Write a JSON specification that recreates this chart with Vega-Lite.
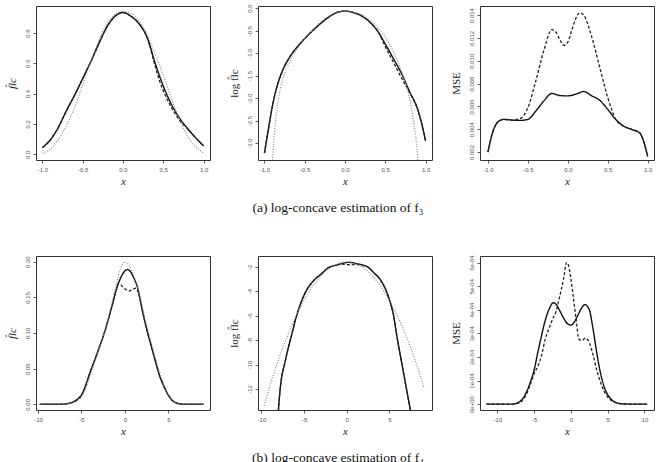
{
  "$schema": "https://vega.github.io/schema/vega-lite/v6.json",
  "background": "white",
  "padding": {"left": 5, "top": 3, "right": 5, "bottom": 5},
  "columns": 3,
  "bounds": "flush",
  "spacing": {"row": 96, "column": 48},
  "datasets": {
    "p1": [
      {"x": -1.0, "y": 0.044, "s": "lc"}, {"x": -0.9, "y": 0.096, "s": "lc"}, {"x": -0.8, "y": 0.18, "s": "lc"}, {"x": -0.7, "y": 0.29, "s": "lc"}, {"x": -0.6, "y": 0.39, "s": "lc"}, {"x": -0.5, "y": 0.5, "s": "lc"}, {"x": -0.4, "y": 0.61, "s": "lc"}, {"x": -0.3, "y": 0.73, "s": "lc"}, {"x": -0.2, "y": 0.84, "s": "lc"}, {"x": -0.1, "y": 0.91, "s": "lc"}, {"x": 0.0, "y": 0.935, "s": "lc"}, {"x": 0.1, "y": 0.91, "s": "lc"}, {"x": 0.2, "y": 0.86, "s": "lc"}, {"x": 0.3, "y": 0.77, "s": "lc"}, {"x": 0.4, "y": 0.6, "s": "lc"}, {"x": 0.5, "y": 0.45, "s": "lc"}, {"x": 0.6, "y": 0.33, "s": "lc"}, {"x": 0.7, "y": 0.24, "s": "lc"}, {"x": 0.8, "y": 0.17, "s": "lc"}, {"x": 0.9, "y": 0.11, "s": "lc"}, {"x": 1.0, "y": 0.055, "s": "lc"},
      {"x": -1.0, "y": 0.044, "s": "alt"}, {"x": -0.9, "y": 0.096, "s": "alt"}, {"x": -0.8, "y": 0.18, "s": "alt"}, {"x": -0.7, "y": 0.29, "s": "alt"}, {"x": -0.6, "y": 0.39, "s": "alt"}, {"x": -0.5, "y": 0.5, "s": "alt"}, {"x": -0.4, "y": 0.61, "s": "alt"}, {"x": -0.3, "y": 0.73, "s": "alt"}, {"x": -0.2, "y": 0.84, "s": "alt"}, {"x": -0.1, "y": 0.91, "s": "alt"}, {"x": 0.0, "y": 0.935, "s": "alt"}, {"x": 0.1, "y": 0.91, "s": "alt"}, {"x": 0.2, "y": 0.86, "s": "alt"}, {"x": 0.3, "y": 0.77, "s": "alt"}, {"x": 0.4, "y": 0.58, "s": "alt"}, {"x": 0.45, "y": 0.49, "s": "alt"}, {"x": 0.5, "y": 0.42, "s": "alt"}, {"x": 0.55, "y": 0.36, "s": "alt"}, {"x": 0.6, "y": 0.31, "s": "alt"}, {"x": 0.7, "y": 0.225, "s": "alt"}, {"x": 0.8, "y": 0.17, "s": "alt"}, {"x": 0.9, "y": 0.11, "s": "alt"}, {"x": 1.0, "y": 0.055, "s": "alt"},
      {"x": -1.0, "y": 0.005, "s": "truth"}, {"x": -0.9, "y": 0.035, "s": "truth"}, {"x": -0.8, "y": 0.1, "s": "truth"}, {"x": -0.7, "y": 0.19, "s": "truth"}, {"x": -0.6, "y": 0.31, "s": "truth"}, {"x": -0.5, "y": 0.46, "s": "truth"}, {"x": -0.4, "y": 0.61, "s": "truth"}, {"x": -0.3, "y": 0.75, "s": "truth"}, {"x": -0.2, "y": 0.86, "s": "truth"}, {"x": -0.1, "y": 0.925, "s": "truth"}, {"x": 0.0, "y": 0.945, "s": "truth"}, {"x": 0.1, "y": 0.93, "s": "truth"}, {"x": 0.2, "y": 0.88, "s": "truth"}, {"x": 0.3, "y": 0.79, "s": "truth"}, {"x": 0.4, "y": 0.66, "s": "truth"}, {"x": 0.5, "y": 0.52, "s": "truth"}, {"x": 0.6, "y": 0.37, "s": "truth"}, {"x": 0.7, "y": 0.23, "s": "truth"}, {"x": 0.8, "y": 0.12, "s": "truth"}, {"x": 0.9, "y": 0.05, "s": "truth"}, {"x": 1.0, "y": 0.01, "s": "truth"}
    ],
    "p2": [
      {"x": -1.0, "y": -3.22, "s": "lc"}, {"x": -0.95, "y": -2.68, "s": "lc"}, {"x": -0.9, "y": -2.17, "s": "lc"}, {"x": -0.85, "y": -1.78, "s": "lc"}, {"x": -0.8, "y": -1.5, "s": "lc"}, {"x": -0.7, "y": -1.13, "s": "lc"}, {"x": -0.6, "y": -0.88, "s": "lc"}, {"x": -0.5, "y": -0.68, "s": "lc"}, {"x": -0.4, "y": -0.5, "s": "lc"}, {"x": -0.3, "y": -0.34, "s": "lc"}, {"x": -0.2, "y": -0.2, "s": "lc"}, {"x": -0.1, "y": -0.1, "s": "lc"}, {"x": 0.0, "y": -0.07, "s": "lc"}, {"x": 0.1, "y": -0.1, "s": "lc"}, {"x": 0.2, "y": -0.17, "s": "lc"}, {"x": 0.3, "y": -0.3, "s": "lc"}, {"x": 0.4, "y": -0.5, "s": "lc"}, {"x": 0.5, "y": -0.8, "s": "lc"}, {"x": 0.6, "y": -1.12, "s": "lc"}, {"x": 0.7, "y": -1.45, "s": "lc"}, {"x": 0.8, "y": -1.85, "s": "lc"}, {"x": 0.9, "y": -2.24, "s": "lc"}, {"x": 0.95, "y": -2.55, "s": "lc"}, {"x": 1.0, "y": -2.95, "s": "lc"},
      {"x": -1.0, "y": -3.22, "s": "alt"}, {"x": -0.95, "y": -2.68, "s": "alt"}, {"x": -0.9, "y": -2.17, "s": "alt"}, {"x": -0.85, "y": -1.78, "s": "alt"}, {"x": -0.8, "y": -1.5, "s": "alt"}, {"x": -0.7, "y": -1.13, "s": "alt"}, {"x": -0.6, "y": -0.88, "s": "alt"}, {"x": -0.5, "y": -0.68, "s": "alt"}, {"x": -0.4, "y": -0.5, "s": "alt"}, {"x": -0.3, "y": -0.34, "s": "alt"}, {"x": -0.2, "y": -0.2, "s": "alt"}, {"x": -0.1, "y": -0.1, "s": "alt"}, {"x": 0.0, "y": -0.07, "s": "alt"}, {"x": 0.1, "y": -0.1, "s": "alt"}, {"x": 0.2, "y": -0.17, "s": "alt"}, {"x": 0.3, "y": -0.3, "s": "alt"}, {"x": 0.4, "y": -0.5, "s": "alt"}, {"x": 0.45, "y": -0.66, "s": "alt"}, {"x": 0.5, "y": -0.86, "s": "alt"}, {"x": 0.6, "y": -1.2, "s": "alt"}, {"x": 0.7, "y": -1.55, "s": "alt"}, {"x": 0.8, "y": -1.87, "s": "alt"}, {"x": 0.9, "y": -2.24, "s": "alt"}, {"x": 0.95, "y": -2.55, "s": "alt"}, {"x": 1.0, "y": -2.95, "s": "alt"},
      {"x": -0.905, "y": -3.5, "s": "truth"}, {"x": -0.85, "y": -2.3, "s": "truth"}, {"x": -0.8, "y": -1.78, "s": "truth"}, {"x": -0.7, "y": -1.25, "s": "truth"}, {"x": -0.6, "y": -0.93, "s": "truth"}, {"x": -0.5, "y": -0.68, "s": "truth"}, {"x": -0.4, "y": -0.48, "s": "truth"}, {"x": -0.3, "y": -0.31, "s": "truth"}, {"x": -0.2, "y": -0.18, "s": "truth"}, {"x": -0.1, "y": -0.1, "s": "truth"}, {"x": 0.0, "y": -0.07, "s": "truth"}, {"x": 0.1, "y": -0.09, "s": "truth"}, {"x": 0.2, "y": -0.15, "s": "truth"}, {"x": 0.3, "y": -0.26, "s": "truth"}, {"x": 0.4, "y": -0.42, "s": "truth"}, {"x": 0.5, "y": -0.65, "s": "truth"}, {"x": 0.6, "y": -0.97, "s": "truth"}, {"x": 0.7, "y": -1.4, "s": "truth"}, {"x": 0.8, "y": -2.0, "s": "truth"}, {"x": 0.85, "y": -2.5, "s": "truth"}, {"x": 0.9, "y": -3.25, "s": "truth"}, {"x": 0.91, "y": -3.5, "s": "truth"}
    ],
    "p3": [
      {"x": -1.0, "y": 0.0020, "s": "lc"}, {"x": -0.95, "y": 0.00353, "s": "lc"}, {"x": -0.9, "y": 0.00442, "s": "lc"}, {"x": -0.85, "y": 0.00477, "s": "lc"}, {"x": -0.8, "y": 0.00486, "s": "lc"}, {"x": -0.7, "y": 0.0048, "s": "lc"}, {"x": -0.6, "y": 0.00477, "s": "lc"}, {"x": -0.5, "y": 0.00486, "s": "lc"}, {"x": -0.4, "y": 0.0056, "s": "lc"}, {"x": -0.3, "y": 0.00648, "s": "lc"}, {"x": -0.2, "y": 0.00713, "s": "lc"}, {"x": -0.1, "y": 0.00695, "s": "lc"}, {"x": 0.0, "y": 0.00692, "s": "lc"}, {"x": 0.1, "y": 0.00707, "s": "lc"}, {"x": 0.2, "y": 0.0073, "s": "lc"}, {"x": 0.3, "y": 0.00692, "s": "lc"}, {"x": 0.4, "y": 0.00654, "s": "lc"}, {"x": 0.5, "y": 0.00574, "s": "lc"}, {"x": 0.6, "y": 0.00486, "s": "lc"}, {"x": 0.7, "y": 0.00427, "s": "lc"}, {"x": 0.8, "y": 0.00398, "s": "lc"}, {"x": 0.9, "y": 0.00368, "s": "lc"}, {"x": 0.95, "y": 0.00294, "s": "lc"}, {"x": 1.0, "y": 0.00162, "s": "lc"},
      {"x": -1.0, "y": 0.0020, "s": "alt"}, {"x": -0.95, "y": 0.00353, "s": "alt"}, {"x": -0.9, "y": 0.00442, "s": "alt"}, {"x": -0.85, "y": 0.00477, "s": "alt"}, {"x": -0.8, "y": 0.00486, "s": "alt"}, {"x": -0.7, "y": 0.0048, "s": "alt"}, {"x": -0.6, "y": 0.00492, "s": "alt"}, {"x": -0.5, "y": 0.00589, "s": "alt"}, {"x": -0.4, "y": 0.00825, "s": "alt"}, {"x": -0.3, "y": 0.0109, "s": "alt"}, {"x": -0.2, "y": 0.01273, "s": "alt"}, {"x": -0.15, "y": 0.01253, "s": "alt"}, {"x": -0.1, "y": 0.01185, "s": "alt"}, {"x": -0.05, "y": 0.01135, "s": "alt"}, {"x": 0.0, "y": 0.01164, "s": "alt"}, {"x": 0.05, "y": 0.01267, "s": "alt"}, {"x": 0.1, "y": 0.0137, "s": "alt"}, {"x": 0.15, "y": 0.0142, "s": "alt"}, {"x": 0.2, "y": 0.014, "s": "alt"}, {"x": 0.3, "y": 0.01208, "s": "alt"}, {"x": 0.4, "y": 0.00943, "s": "alt"}, {"x": 0.5, "y": 0.00678, "s": "alt"}, {"x": 0.55, "y": 0.00574, "s": "alt"}, {"x": 0.6, "y": 0.00486, "s": "alt"}, {"x": 0.7, "y": 0.00427, "s": "alt"}, {"x": 0.8, "y": 0.00398, "s": "alt"}, {"x": 0.9, "y": 0.00368, "s": "alt"}, {"x": 0.95, "y": 0.00294, "s": "alt"}, {"x": 1.0, "y": 0.00162, "s": "alt"}
    ],
    "p4": [
      {"x": -9.8, "y": 0, "s": "lc"}, {"x": -7.5, "y": 0, "s": "lc"}, {"x": -7, "y": 0.0003, "s": "lc"}, {"x": -6.5, "y": 0.0012, "s": "lc"}, {"x": -6, "y": 0.003, "s": "lc"}, {"x": -5.5, "y": 0.0065, "s": "lc"}, {"x": -5, "y": 0.013, "s": "lc"}, {"x": -4.5, "y": 0.027, "s": "lc"}, {"x": -4, "y": 0.045, "s": "lc"}, {"x": -3.5, "y": 0.061, "s": "lc"}, {"x": -3, "y": 0.078, "s": "lc"}, {"x": -2.5, "y": 0.095, "s": "lc"}, {"x": -2, "y": 0.115, "s": "lc"}, {"x": -1.5, "y": 0.137, "s": "lc"}, {"x": -1, "y": 0.16, "s": "lc"}, {"x": -0.5, "y": 0.177, "s": "lc"}, {"x": 0, "y": 0.187, "s": "lc"}, {"x": 0.3, "y": 0.189, "s": "lc"}, {"x": 0.5, "y": 0.188, "s": "lc"}, {"x": 1, "y": 0.178, "s": "lc"}, {"x": 1.5, "y": 0.162, "s": "lc"}, {"x": 2, "y": 0.132, "s": "lc"}, {"x": 2.5, "y": 0.106, "s": "lc"}, {"x": 3, "y": 0.0835, "s": "lc"}, {"x": 3.5, "y": 0.061, "s": "lc"}, {"x": 4, "y": 0.04, "s": "lc"}, {"x": 4.5, "y": 0.025, "s": "lc"}, {"x": 5, "y": 0.013, "s": "lc"}, {"x": 5.5, "y": 0.005, "s": "lc"}, {"x": 6, "y": 0.0015, "s": "lc"}, {"x": 6.5, "y": 0.0004, "s": "lc"}, {"x": 7, "y": 0, "s": "lc"}, {"x": 9.05, "y": 0, "s": "lc"},
      {"x": -9.8, "y": 0, "s": "alt"}, {"x": -7.5, "y": 0, "s": "alt"}, {"x": -7, "y": 0.0003, "s": "alt"}, {"x": -6.5, "y": 0.0012, "s": "alt"}, {"x": -6, "y": 0.003, "s": "alt"}, {"x": -5.5, "y": 0.0065, "s": "alt"}, {"x": -5, "y": 0.013, "s": "alt"}, {"x": -4.5, "y": 0.027, "s": "alt"}, {"x": -4, "y": 0.045, "s": "alt"}, {"x": -3.5, "y": 0.061, "s": "alt"}, {"x": -3, "y": 0.078, "s": "alt"}, {"x": -2.5, "y": 0.095, "s": "alt"}, {"x": -2, "y": 0.115, "s": "alt"}, {"x": -1.5, "y": 0.137, "s": "alt"}, {"x": -1, "y": 0.16, "s": "alt"}, {"x": -0.8, "y": 0.169, "s": "alt"}, {"x": -0.5, "y": 0.168, "s": "alt"}, {"x": -0.27, "y": 0.165, "s": "alt"}, {"x": 0, "y": 0.162, "s": "alt"}, {"x": 0.5, "y": 0.159, "s": "alt"}, {"x": 0.9, "y": 0.161, "s": "alt"}, {"x": 1.27, "y": 0.163, "s": "alt"}, {"x": 1.65, "y": 0.152, "s": "alt"}, {"x": 2, "y": 0.133, "s": "alt"}, {"x": 2.5, "y": 0.106, "s": "alt"}, {"x": 3, "y": 0.0835, "s": "alt"}, {"x": 3.5, "y": 0.061, "s": "alt"}, {"x": 4, "y": 0.04, "s": "alt"}, {"x": 4.5, "y": 0.025, "s": "alt"}, {"x": 5, "y": 0.013, "s": "alt"}, {"x": 5.5, "y": 0.005, "s": "alt"}, {"x": 6, "y": 0.0015, "s": "alt"}, {"x": 6.5, "y": 0.0004, "s": "alt"}, {"x": 7, "y": 0, "s": "alt"}, {"x": 9.05, "y": 0, "s": "alt"},
      {"x": -9.8, "y": 0, "s": "truth"}, {"x": -7, "y": 0.0003, "s": "truth"}, {"x": -6, "y": 0.002, "s": "truth"}, {"x": -5, "y": 0.01, "s": "truth"}, {"x": -4.5, "y": 0.022, "s": "truth"}, {"x": -4, "y": 0.04, "s": "truth"}, {"x": -3.5, "y": 0.058, "s": "truth"}, {"x": -3, "y": 0.076, "s": "truth"}, {"x": -2.5, "y": 0.095, "s": "truth"}, {"x": -2, "y": 0.117, "s": "truth"}, {"x": -1.5, "y": 0.142, "s": "truth"}, {"x": -1, "y": 0.168, "s": "truth"}, {"x": -0.5, "y": 0.19, "s": "truth"}, {"x": 0, "y": 0.2, "s": "truth"}, {"x": 0.5, "y": 0.195, "s": "truth"}, {"x": 1, "y": 0.181, "s": "truth"}, {"x": 1.5, "y": 0.163, "s": "truth"}, {"x": 2, "y": 0.138, "s": "truth"}, {"x": 2.5, "y": 0.111, "s": "truth"}, {"x": 3, "y": 0.088, "s": "truth"}, {"x": 3.5, "y": 0.066, "s": "truth"}, {"x": 4, "y": 0.045, "s": "truth"}, {"x": 4.5, "y": 0.027, "s": "truth"}, {"x": 5, "y": 0.014, "s": "truth"}, {"x": 5.5, "y": 0.006, "s": "truth"}, {"x": 6, "y": 0.002, "s": "truth"}, {"x": 7, "y": 0.0002, "s": "truth"}, {"x": 9.05, "y": 0, "s": "truth"}
    ],
    "p5": [
      {"x": -8.1, "y": -14.6, "s": "lc"}, {"x": -7.8, "y": -12.0, "s": "lc"}, {"x": -7.2, "y": -9.7, "s": "lc"}, {"x": -6.46, "y": -7.58, "s": "lc"}, {"x": -5.96, "y": -6.22, "s": "lc"}, {"x": -4.99, "y": -4.31, "s": "lc"}, {"x": -3.82, "y": -3.09, "s": "lc"}, {"x": -3, "y": -2.6, "s": "lc"}, {"x": -2.26, "y": -2.13, "s": "lc"}, {"x": -1, "y": -1.83, "s": "lc"}, {"x": 0.27, "y": -1.64, "s": "lc"}, {"x": 1.2, "y": -1.75, "s": "lc"}, {"x": 2.42, "y": -2.0, "s": "lc"}, {"x": 3.2, "y": -2.5, "s": "lc"}, {"x": 3.97, "y": -3.09, "s": "lc"}, {"x": 4.95, "y": -4.58, "s": "lc"}, {"x": 5.5, "y": -6.0, "s": "lc"}, {"x": 5.84, "y": -7.5, "s": "lc"}, {"x": 6.3, "y": -9.3, "s": "lc"}, {"x": 6.8, "y": -11.2, "s": "lc"}, {"x": 7.3, "y": -13.1, "s": "lc"}, {"x": 7.6, "y": -14.3, "s": "lc"},
      {"x": -8.1, "y": -14.6, "s": "alt"}, {"x": -7.8, "y": -12.0, "s": "alt"}, {"x": -7.2, "y": -9.7, "s": "alt"}, {"x": -6.46, "y": -7.58, "s": "alt"}, {"x": -5.96, "y": -6.22, "s": "alt"}, {"x": -4.99, "y": -4.31, "s": "alt"}, {"x": -3.82, "y": -3.09, "s": "alt"}, {"x": -3, "y": -2.6, "s": "alt"}, {"x": -2.26, "y": -2.13, "s": "alt"}, {"x": -1.2, "y": -1.85, "s": "alt"}, {"x": -0.6, "y": -1.78, "s": "alt"}, {"x": 0, "y": -1.82, "s": "alt"}, {"x": 0.5, "y": -1.84, "s": "alt"}, {"x": 1.2, "y": -1.81, "s": "alt"}, {"x": 1.7, "y": -1.88, "s": "alt"}, {"x": 2.42, "y": -2.0, "s": "alt"}, {"x": 3.2, "y": -2.5, "s": "alt"}, {"x": 3.97, "y": -3.09, "s": "alt"}, {"x": 4.95, "y": -4.58, "s": "alt"}, {"x": 5.5, "y": -6.0, "s": "alt"}, {"x": 5.84, "y": -7.5, "s": "alt"}, {"x": 6.3, "y": -9.3, "s": "alt"}, {"x": 6.8, "y": -11.2, "s": "alt"}, {"x": 7.3, "y": -13.1, "s": "alt"}, {"x": 7.6, "y": -14.3, "s": "alt"},
      {"x": -9.7, "y": -13.37, "s": "truth"}, {"x": -9, "y": -11.74, "s": "truth"}, {"x": -8, "y": -9.61, "s": "truth"}, {"x": -7, "y": -7.74, "s": "truth"}, {"x": -6, "y": -6.11, "s": "truth"}, {"x": -5, "y": -4.74, "s": "truth"}, {"x": -4, "y": -3.61, "s": "truth"}, {"x": -3, "y": -2.74, "s": "truth"}, {"x": -2, "y": -2.11, "s": "truth"}, {"x": -1, "y": -1.74, "s": "truth"}, {"x": 0, "y": -1.61, "s": "truth"}, {"x": 1, "y": -1.74, "s": "truth"}, {"x": 2, "y": -2.11, "s": "truth"}, {"x": 3, "y": -2.74, "s": "truth"}, {"x": 4, "y": -3.61, "s": "truth"}, {"x": 5, "y": -4.74, "s": "truth"}, {"x": 6, "y": -6.11, "s": "truth"}, {"x": 7, "y": -7.74, "s": "truth"}, {"x": 8, "y": -9.61, "s": "truth"}, {"x": 9, "y": -11.74, "s": "truth"}, {"x": 9.1, "y": -11.96, "s": "truth"}
    ],
    "p6": [
      {"x": -11.5, "y": 0, "s": "lc"}, {"x": -8, "y": 0, "s": "lc"}, {"x": -7.3, "y": 5e-6, "s": "lc"}, {"x": -6.4, "y": 3e-5, "s": "lc"}, {"x": -5.5, "y": 9.5e-5, "s": "lc"}, {"x": -5, "y": 1.45e-4, "s": "lc"}, {"x": -4.5, "y": 2.2e-4, "s": "lc"}, {"x": -4, "y": 2.9e-4, "s": "lc"}, {"x": -3.5, "y": 3.55e-4, "s": "lc"}, {"x": -3, "y": 4.0e-4, "s": "lc"}, {"x": -2.4, "y": 4.3e-4, "s": "lc"}, {"x": -2, "y": 4.22e-4, "s": "lc"}, {"x": -1.5, "y": 3.95e-4, "s": "lc"}, {"x": -1, "y": 3.65e-4, "s": "lc"}, {"x": -0.5, "y": 3.42e-4, "s": "lc"}, {"x": 0, "y": 3.35e-4, "s": "lc"}, {"x": 0.5, "y": 3.5e-4, "s": "lc"}, {"x": 1, "y": 3.8e-4, "s": "lc"}, {"x": 1.5, "y": 4.1e-4, "s": "lc"}, {"x": 1.9, "y": 4.22e-4, "s": "lc"}, {"x": 2.5, "y": 4.0e-4, "s": "lc"}, {"x": 3, "y": 3.2e-4, "s": "lc"}, {"x": 3.5, "y": 2.2e-4, "s": "lc"}, {"x": 4, "y": 1.35e-4, "s": "lc"}, {"x": 4.5, "y": 7.5e-5, "s": "lc"}, {"x": 5, "y": 4e-5, "s": "lc"}, {"x": 5.5, "y": 2e-5, "s": "lc"}, {"x": 6, "y": 8e-6, "s": "lc"}, {"x": 7, "y": 1e-6, "s": "lc"}, {"x": 8, "y": 0, "s": "lc"}, {"x": 10.37, "y": 0, "s": "lc"},
      {"x": -11.5, "y": 0, "s": "alt"}, {"x": -8, "y": 0, "s": "alt"}, {"x": -7, "y": 5e-6, "s": "alt"}, {"x": -6.5, "y": 2e-5, "s": "alt"}, {"x": -6, "y": 4.5e-5, "s": "alt"}, {"x": -5.5, "y": 8.5e-5, "s": "alt"}, {"x": -5, "y": 1.3e-4, "s": "alt"}, {"x": -4.5, "y": 1.6e-4, "s": "alt"}, {"x": -4, "y": 2.05e-4, "s": "alt"}, {"x": -3.5, "y": 2.75e-4, "s": "alt"}, {"x": -3, "y": 3.2e-4, "s": "alt"}, {"x": -2.5, "y": 3.6e-4, "s": "alt"}, {"x": -2, "y": 3.95e-4, "s": "alt"}, {"x": -1.5, "y": 4.6e-4, "s": "alt"}, {"x": -1, "y": 5.3e-4, "s": "alt"}, {"x": -0.6, "y": 6.0e-4, "s": "alt"}, {"x": -0.3, "y": 5.85e-4, "s": "alt"}, {"x": 0, "y": 5.3e-4, "s": "alt"}, {"x": 0.3, "y": 4.6e-4, "s": "alt"}, {"x": 0.7, "y": 3.6e-4, "s": "alt"}, {"x": 1.1, "y": 2.75e-4, "s": "alt"}, {"x": 1.5, "y": 2.7e-4, "s": "alt"}, {"x": 2, "y": 2.8e-4, "s": "alt"}, {"x": 2.5, "y": 2.6e-4, "s": "alt"}, {"x": 3, "y": 2.1e-4, "s": "alt"}, {"x": 3.5, "y": 1.45e-4, "s": "alt"}, {"x": 4, "y": 9.5e-5, "s": "alt"}, {"x": 4.5, "y": 5.5e-5, "s": "alt"}, {"x": 5, "y": 3e-5, "s": "alt"}, {"x": 5.5, "y": 1.5e-5, "s": "alt"}, {"x": 6, "y": 7e-6, "s": "alt"}, {"x": 7, "y": 1e-6, "s": "alt"}, {"x": 8, "y": 0, "s": "alt"}, {"x": 10.37, "y": 0, "s": "alt"}
    ]
  },
  "concat": [
    {
      "width": 174, "height": 154,
      "data": {"name": "p1"},
      "mark": {"type": "line", "interpolate": "monotone", "clip": true},
      "encoding": {
        "x": {"field": "x", "type": "quantitative", "scale": {"domain": [-1.08, 1.08], "nice": false, "zero": false}, "axis": {"values": [-1, -0.5, 0, 0.5, 1], "format": ".1f", "title": "x"}},
        "y": {"field": "y", "type": "quantitative", "scale": {"domain": [-0.038, 0.978], "nice": false, "zero": false}, "axis": {"values": [0, 0.2, 0.4, 0.6, 0.8], "format": ".1f", "title": "f̂lc", "titleFontStyle": "italic"}},
        "strokeDash": {"field": "s", "type": "nominal", "scale": {"domain": ["lc", "alt", "truth"], "range": [[1, 0], [3, 2], [1, 1.6]]}, "legend": null},
        "color": {"field": "s", "type": "nominal", "scale": {"domain": ["lc", "alt", "truth"], "range": ["#111111", "#222222", "#8a8a8a"]}, "legend": null},
        "strokeWidth": {"field": "s", "type": "nominal", "scale": {"domain": ["lc", "alt", "truth"], "range": [1.4, 1.2, 0.9]}, "legend": null}
      }
    },
    {
      "width": 174, "height": 154,
      "data": {"name": "p2"},
      "title": {"text": "(a) log-concave estimation of f₃", "orient": "bottom", "anchor": "middle", "frame": "group", "offset": 15, "dx": -7, "font": "Liberation Serif", "fontSize": 13.5, "fontWeight": "normal", "color": "#111111"},
      "mark": {"type": "line", "interpolate": "monotone", "clip": true},
      "encoding": {
        "x": {"field": "x", "type": "quantitative", "scale": {"domain": [-1.08, 1.08], "nice": false, "zero": false}, "axis": {"values": [-1, -0.5, 0, 0.5, 1], "format": ".1f", "title": "x"}},
        "y": {"field": "y", "type": "quantitative", "scale": {"domain": [-3.375, 0.044], "nice": false, "zero": false}, "axis": {"values": [-3, -2.5, -2, -1.5, -1, -0.5, 0], "format": ".1f", "title": "log f̂lc"}},
        "strokeDash": {"field": "s", "type": "nominal", "scale": {"domain": ["lc", "alt", "truth"], "range": [[1, 0], [3, 2], [1, 1.6]]}, "legend": null},
        "color": {"field": "s", "type": "nominal", "scale": {"domain": ["lc", "alt", "truth"], "range": ["#111111", "#222222", "#8a8a8a"]}, "legend": null},
        "strokeWidth": {"field": "s", "type": "nominal", "scale": {"domain": ["lc", "alt", "truth"], "range": [1.4, 1.2, 0.9]}, "legend": null}
      }
    },
    {
      "width": 174, "height": 154,
      "data": {"name": "p3"},
      "mark": {"type": "line", "interpolate": "monotone", "clip": true},
      "encoding": {
        "x": {"field": "x", "type": "quantitative", "scale": {"domain": [-1.1, 1.08], "nice": false, "zero": false}, "axis": {"values": [-1, -0.5, 0, 0.5, 1], "format": ".1f", "title": "x"}},
        "y": {"field": "y", "type": "quantitative", "scale": {"domain": [0.0013, 0.0148], "nice": false, "zero": false}, "axis": {"values": [0.002, 0.004, 0.006, 0.008, 0.01, 0.012, 0.014], "format": ".3f", "title": "MSE"}},
        "strokeDash": {"field": "s", "type": "nominal", "scale": {"domain": ["lc", "alt", "truth"], "range": [[1, 0], [3, 2], [1, 1.6]]}, "legend": null},
        "color": {"field": "s", "type": "nominal", "scale": {"domain": ["lc", "alt", "truth"], "range": ["#111111", "#222222", "#8a8a8a"]}, "legend": null},
        "strokeWidth": {"field": "s", "type": "nominal", "scale": {"domain": ["lc", "alt", "truth"], "range": [1.4, 1.2, 0.9]}, "legend": null}
      }
    },
    {
      "width": 174, "height": 154,
      "data": {"name": "p4"},
      "mark": {"type": "line", "interpolate": "monotone", "clip": true},
      "encoding": {
        "x": {"field": "x", "type": "quantitative", "scale": {"domain": [-10.23, 9.8], "nice": false, "zero": false}, "axis": {"values": [-10, -5, 0, 5], "format": "d", "title": "x"}},
        "y": {"field": "y", "type": "quantitative", "scale": {"domain": [-0.008, 0.208], "nice": false, "zero": false}, "axis": {"values": [0, 0.05, 0.1, 0.15, 0.2], "format": ".2f", "title": "f̂lc", "titleFontStyle": "italic"}},
        "strokeDash": {"field": "s", "type": "nominal", "scale": {"domain": ["lc", "alt", "truth"], "range": [[1, 0], [3, 2], [1, 1.6]]}, "legend": null},
        "color": {"field": "s", "type": "nominal", "scale": {"domain": ["lc", "alt", "truth"], "range": ["#111111", "#222222", "#8a8a8a"]}, "legend": null},
        "strokeWidth": {"field": "s", "type": "nominal", "scale": {"domain": ["lc", "alt", "truth"], "range": [1.4, 1.2, 0.9]}, "legend": null}
      }
    },
    {
      "width": 174, "height": 154,
      "data": {"name": "p5"},
      "title": {"text": "(b) log-concave estimation of f₄", "orient": "bottom", "anchor": "middle", "frame": "group", "offset": 15, "dx": -7, "font": "Liberation Serif", "fontSize": 13.5, "fontWeight": "normal", "color": "#111111"},
      "mark": {"type": "line", "interpolate": "monotone", "clip": true},
      "encoding": {
        "x": {"field": "x", "type": "quantitative", "scale": {"domain": [-10.4, 10.0], "nice": false, "zero": false}, "axis": {"values": [-10, -5, 0, 5], "format": "d", "title": "x"}},
        "y": {"field": "y", "type": "quantitative", "scale": {"domain": [-13.72, -1.12], "nice": false, "zero": false}, "axis": {"values": [-12, -10, -8, -6, -4, -2], "format": "d", "title": "log f̂lc"}},
        "strokeDash": {"field": "s", "type": "nominal", "scale": {"domain": ["lc", "alt", "truth"], "range": [[1, 0], [3, 2], [1, 1.6]]}, "legend": null},
        "color": {"field": "s", "type": "nominal", "scale": {"domain": ["lc", "alt", "truth"], "range": ["#111111", "#222222", "#8a8a8a"]}, "legend": null},
        "strokeWidth": {"field": "s", "type": "nominal", "scale": {"domain": ["lc", "alt", "truth"], "range": [1.4, 1.2, 0.9]}, "legend": null}
      }
    },
    {
      "width": 174, "height": 154,
      "data": {"name": "p6"},
      "mark": {"type": "line", "interpolate": "monotone", "clip": true},
      "encoding": {
        "x": {"field": "x", "type": "quantitative", "scale": {"domain": [-12.37, 11.3], "nice": false, "zero": false}, "axis": {"values": [-10, -5, 0, 5, 10], "format": "d", "title": "x"}},
        "y": {"field": "y", "type": "quantitative", "scale": {"domain": [-0.000025, 0.000628], "nice": false, "zero": false}, "axis": {"values": [0, 0.0001, 0.0002, 0.0003, 0.0004, 0.0005, 0.0006], "labelExpr": "datum.value == 0 ? '0e+00' : round(datum.value * 10000) + 'e-04'", "title": "MSE"}},
        "strokeDash": {"field": "s", "type": "nominal", "scale": {"domain": ["lc", "alt", "truth"], "range": [[1, 0], [3, 2], [1, 1.6]]}, "legend": null},
        "color": {"field": "s", "type": "nominal", "scale": {"domain": ["lc", "alt", "truth"], "range": ["#111111", "#222222", "#8a8a8a"]}, "legend": null},
        "strokeWidth": {"field": "s", "type": "nominal", "scale": {"domain": ["lc", "alt", "truth"], "range": [1.4, 1.2, 0.9]}, "legend": null}
      }
    }
  ],
  "config": {
    "locale": {"number": {"decimal": ".", "thousands": ",", "grouping": [3], "currency": ["", ""], "minus": "-"}},
    "view": {"stroke": "#333333", "strokeWidth": 1},
    "axis": {
      "domain": false, "grid": false, "ticks": true, "tickColor": "#333333", "tickSize": 3, "tickWidth": 0.8,
      "labelFont": "Liberation Sans", "labelFontSize": 6, "labelColor": "#555555", "labelPadding": 3,
      "labelFlush": false, "labelOverlap": false,
      "titleFont": "Liberation Serif", "titleFontWeight": "normal", "titleFontSize": 11, "titleColor": "#222222"
    },
    "axisX": {"titlePadding": 3, "titleFontStyle": "italic"},
    "axisY": {"labelAngle": -90, "labelAlign": "center", "labelBaseline": "bottom", "titlePadding": 7}
  }
}
